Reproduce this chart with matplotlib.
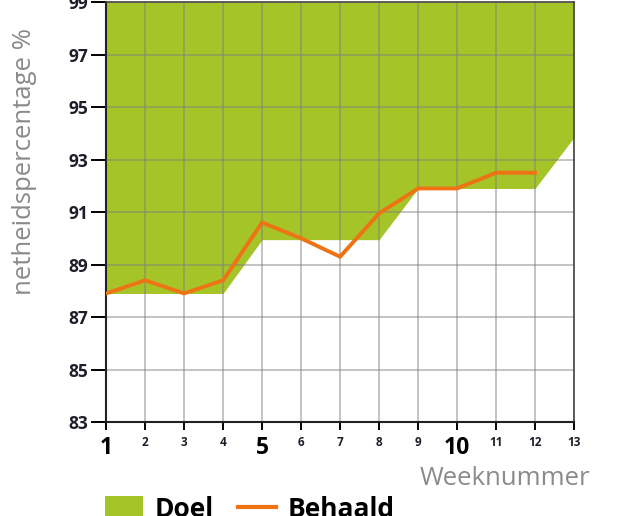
import numpy as np
import matplotlib.pyplot as plt
from matplotlib.patches import Patch
from matplotlib.lines import Line2D

plt.rcParams['font.family'] = ['Open Sans', 'DejaVu Sans']

# doel (ondergrens van het groene vlak)
weken_doel = [1, 4, 5, 8, 9, 12, 13]
doel = [87.9, 87.9, 89.95, 89.95, 91.9, 91.9, 93.85]

# behaald
weken = [1, 2, 3, 4, 5, 6, 7, 8, 9, 10, 11, 12]
behaald = [87.9, 88.4, 87.9, 88.4, 90.6, 90.0, 89.3, 90.95, 91.9, 91.9, 92.5, 92.5]

x_ticks = list(range(1, 14))
y_ticks = [83, 85, 87, 89, 91, 93, 95, 97, 99]

fig = plt.figure(figsize=(6.24, 5.16), dpi=100)
ax = fig.add_axes([0.170, 0.182, 0.750, 0.814])

ax.fill_between(weken_doel, doel, 99, color='#a4c428', linewidth=0, zorder=1)

# raster
for x in x_ticks:
    ax.axvline(x, color='#808080', alpha=0.55, linewidth=1.2, zorder=2)
for y in y_ticks:
    ax.axhline(y, color='#808080', alpha=0.55, linewidth=1.2, zorder=2)

ax.plot(weken, behaald, color='#ee7314', linewidth=2.8, zorder=3, solid_joinstyle='miter')

ax.set_xlim(1, 13)
ax.set_ylim(83, 99)

ax.set_yticks(y_ticks)
ax.set_yticklabels([str(v) for v in y_ticks], fontsize=12.5, fontweight='bold', color='#1e1e2a')
ax.tick_params(axis='y', length=11, width=1.4, pad=2, direction='out')

ax.set_xticks(x_ticks)
ax.set_xticklabels([str(v) for v in x_ticks], fontweight='bold', color='#1e1e2a')
for lbl in ax.get_xticklabels():
    if lbl.get_text() in ('1', '5', '10'):
        lbl.set_fontsize(16.5)
        lbl.set_color('black')
    else:
        lbl.set_fontsize(8.5)
ax.tick_params(axis='x', length=6, width=1.4, pad=4, direction='out')

for side in ['left', 'bottom']:
    ax.spines[side].set_linewidth(1.5)
    ax.spines[side].set_color('#222222')
for side in ['top', 'right']:
    ax.spines[side].set_linewidth(1.2)
    ax.spines[side].set_color('#444444')

ax.set_ylabel('netheidspercentage %', fontsize=18.5, color='#8a8a8a')
ax.yaxis.set_label_coords(-0.147, 0.621)
fig.text(0.946, 0.073, 'Weeknummer', fontsize=18.5, color='#8a8a8a', ha='right', va='center')

handles = [Patch(facecolor='#a4c428', edgecolor='none'),
           Line2D([0], [0], color='#ee7314', linewidth=3)]
fig.legend(handles, ['Doel', 'Behaald'], loc='center left', bbox_to_anchor=(0.130, 0.012),
           ncol=2, frameon=False, prop={'size': 19, 'weight': 'bold'},
           handlelength=1.45, handleheight=1.0, columnspacing=0.9, handletextpad=0.45)

fig.savefig('out.png', dpi=100)
